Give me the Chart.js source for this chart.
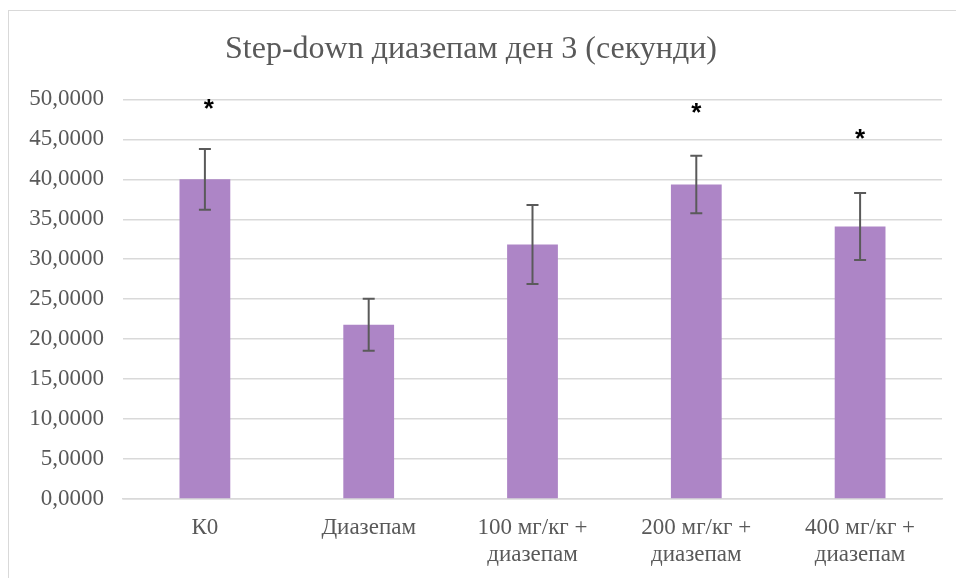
<!DOCTYPE html>
<html>
<head>
<meta charset="utf-8">
<script src="https://cdn.jsdelivr.net/npm/chart.js@4"></script>
<style>
  html, body { margin: 0; padding: 0; background: #fff; overflow: hidden; }
  #frame {
    position: absolute; left: 8px; top: 10px; width: 1000px; height: 700px;
    border-left: 1.5px solid #d9d9d9; border-top: 1.5px solid #d9d9d9;
  }
  #wrap { position: absolute; left: 0; top: 0; width: 956px; height: 578px; }
</style>
</head>
<body>
<div id="frame"></div>
<div id="wrap"><canvas id="stepdownChart"></canvas></div>
<script>
const categories = ["К0", "Диазепам", ["100 мг/кг +", "диазепам"], ["200 мг/кг +", "диазепам"], ["400 мг/кг +", "диазепам"]];
const means = [40.0, 21.8, 31.85, 39.35, 34.1];
const errors = [3.8, 3.25, 4.95, 3.6, 4.2];
const starY = [49.25, null, null, 48.7, 45.5];

// error bars + significance stars
const extrasPlugin = {
  id: "extras",
  afterDatasetsDraw(chart) {
    const ctx = chart.ctx;
    const y = chart.scales.y;
    const meta = chart.getDatasetMeta(0);
    ctx.save();
    ctx.strokeStyle = "#5a5a5a";
    ctx.lineWidth = 2;
    meta.data.forEach((bar, i) => {
      const x = bar.x;
      const top = y.getPixelForValue(means[i] + errors[i]);
      const bot = y.getPixelForValue(means[i] - errors[i]);
      ctx.beginPath();
      ctx.moveTo(x, top); ctx.lineTo(x, bot);
      ctx.moveTo(x - 6, top); ctx.lineTo(x + 6, top);
      ctx.moveTo(x - 6, bot); ctx.lineTo(x + 6, bot);
      ctx.stroke();
    });
    ctx.fillStyle = "#000";
    ctx.font = "bold 26px 'Liberation Sans'";
    ctx.textAlign = "center";
    ctx.textBaseline = "middle";
    meta.data.forEach((bar, i) => {
      if (starY[i] == null) return;
      ctx.fillText("*", bar.x + (i === 0 ? 4 : 0), y.getPixelForValue(starY[i]) + 4);
    });
    ctx.restore();
  }
};

new Chart(document.getElementById("stepdownChart"), {
  type: "bar",
  data: {
    labels: categories,
    datasets: [
      {
        data: means,
        backgroundColor: "#ad85c6",
        barPercentage: 0.31,
        categoryPercentage: 1,
      },
    ],
  },
  options: {
    responsive: true,
    maintainAspectRatio: false,
    animation: false,
    layout: { padding: { left: 0, right: 14, top: 30, bottom: 0 } },
    plugins: {
      legend: { display: false },
      tooltip: { enabled: false },
      title: {
        display: true,
        text: "Step-down диазепам ден 3 (секунди)",
        color: "#595959",
        font: { family: "'Liberation Serif'", size: 32, weight: "normal" },
        padding: { top: 0, bottom: 31 },
      },
    },
    scales: {
      y: {
        min: 0,
        max: 50,
        ticks: {
          stepSize: 5,
          color: "#595959",
          font: { family: "'Liberation Serif'", size: 23 },
          padding: 19,
          callback: (v) => v.toFixed(4).replace(".", ","),
        },
        grid: { color: "#d9d9d9", lineWidth: 1.5, drawTicks: false },
        border: { display: false },
        afterFit(scale) { scale.width = 123; },
      },
      x: {
        ticks: {
          color: "#595959",
          font: { family: "'Liberation Serif'", size: 23 },
          padding: 7,
          maxRotation: 0,
          autoSkip: false,
        },
        grid: { display: false },
        border: { display: true, color: "#d9d9d9", width: 1.5 },
        afterFit(scale) { scale.height = 79; },
      },
    },
  },
  plugins: [extrasPlugin],
});
</script>
</body>
</html>
